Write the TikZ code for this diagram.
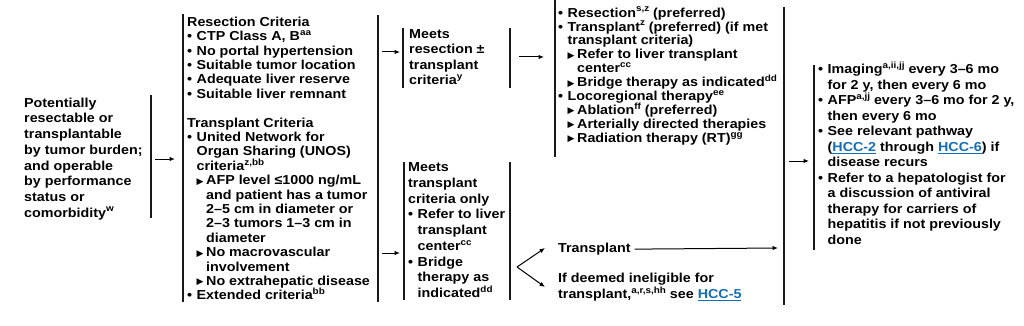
\documentclass[tikz,border=0pt]{standalone}
\usepackage{fontspec}
\setmainfont{Liberation Sans}[FakeStretch=1.1]
\newfontfamily\dejavu{DejaVu Sans}
\usetikzlibrary{arrows.meta}
\definecolor{linkblue}{RGB}{20,110,180}
\newcommand\sups[1]{\raisebox{0.4em}[0pt][0pt]{\fontsize{9}{9}\selectfont #1}}
\newcommand\bu{\makebox[9.5pt][l]{•}}
\newcommand\tri{\makebox[9.5pt][l]{\raisebox{0.6pt}[0pt][0pt]{\dejavu\fontsize{9}{9}\selectfont ▶}}}
\newcommand\ind{\hspace*{9.5pt}}
\newcommand\lnk[1]{{\color{linkblue}\underline{#1}}}
\newcommand\fst{\rule{0pt}{11pt}}
\tikzset{
  txt/.style={anchor=north west, inner sep=0pt, align=left, font=\bfseries\fontsize{13}{#1}\selectfont},
  txt/.default=14.4,
  bar/.style={line width=1.4pt, draw=black!90},
  arr/.style={line width=1pt, -{Latex[length=5.5pt,width=4.5pt]}}
}
\begin{document}
\begin{tikzpicture}[x=1pt,y=-1pt]
\useasboundingbox[fill=white] (0,0) rectangle (1024,326);

% text blocks
\node[txt=15.7] (cond) at (24,96) {\fst Potentially\\resectable or\\transplantable\\by tumor burden;\\and operable\\by performance\\status or\\comorbidity\sups{w}};

\node[txt=14.4] (crit) at (187,15) {\fst Resection Criteria\\
\bu CTP Class A, B\sups{aa}\\
\bu No portal hypertension\\
\bu Suitable tumor location\\
\bu Adequate liver reserve\\
\bu Suitable liver remnant\\
\mbox{}\\
Transplant Criteria\\
\bu United Network for\\
\ind Organ Sharing (UNOS)\\
\ind criteria\sups{z,bb}\\
\ind\tri AFP level ≤1000 ng/mL\\
\ind\ind and patient has a tumor\\
\ind\ind 2–5 cm in diameter or\\
\ind\ind 2–3 tumors 1–3 cm in\\
\ind\ind diameter\\
\ind\tri No macrovascular\\
\ind\ind involvement\\
\ind\tri No extrahepatic disease\\
\bu Extended criteria\sups{bb}};

\node[txt=15.5] (mres) at (409,27) {\fst Meets\\resection ±\\transplant\\criteria\sups{y}};

\node[txt=13.9] (res) at (558,6) {\fst\bu Resection\sups{s,z} (preferred)\\
\bu Transplant\sups{z} (preferred) (if met\\
\ind transplant criteria)\\
\ind\tri Refer to liver transplant\\
\ind\ind center\sups{cc}\\
\ind\tri Bridge therapy as indicated\sups{dd}\\
\bu Locoregional therapy\sups{ee}\\
\ind\tri Ablation\sups{ff} (preferred)\\
\ind\tri Arterially directed therapies\\
\ind\tri Radiation therapy (RT)\sups{gg}};

\node[txt=15.75] (mtr) at (408,160.5) {\fst Meets\\transplant\\criteria only\\
\bu Refer to liver\\
\ind transplant\\
\ind center\sups{cc}\\
\bu Bridge\\
\ind therapy as\\
\ind indicated\sups{dd}};

\node[anchor=base west, inner sep=0pt, font=\bfseries\fontsize{13}{14}\selectfont] (tx) at (558,252.5) {Transplant};

\node[txt=16] (inel) at (558,271.5) {\fst If deemed ineligible for\\transplant,\sups{a,r,s,hh} see \lnk{HCC-5}};

\node[txt=15.5] (fu) at (818,62.5) {\fst\bu Imaging\sups{a,ii,jj} every 3–6 mo\\
\ind for 2 y, then every 6 mo\\
\bu AFP\sups{a,jj} every 3–6 mo for 2 y,\\
\ind then every 6 mo\\
\bu See relevant pathway\\
\ind (\lnk{HCC-2} through \lnk{HCC-6}) if\\
\ind disease recurs\\
\bu Refer to a hepatologist for\\
\ind a discussion of antiviral\\
\ind therapy for carriers of\\
\ind hepatitis if not previously\\
\ind done};

% bars
\coordinate (b1t) at (151,95);  \coordinate (b1b) at (151,218);
\coordinate (b2t) at (183,14);  \coordinate (b2b) at (183,302);
\coordinate (b3t) at (378,15);  \coordinate (b3b) at (378,302);
\coordinate (b4t) at (403,28);  \coordinate (b4b) at (403,88);
\coordinate (b5t) at (510,28);  \coordinate (b5b) at (510,88);
\coordinate (b6t) at (555,0);   \coordinate (b6b) at (555,157);
\coordinate (b7t) at (404,162); \coordinate (b7b) at (404,300);
\coordinate (b8t) at (510,162); \coordinate (b8b) at (510,300);
\coordinate (b9t) at (784,7);   \coordinate (b9b) at (784,305);
\coordinate (b10t) at (814,65); \coordinate (b10b) at (814,250);
\foreach \i in {1,...,10} { \draw[bar] (b\i t) -- (b\i b); }

% arrows
\coordinate (a1s) at (155,159); \coordinate (a1e) at (175,159);
\coordinate (a2s) at (382,52);  \coordinate (a2e) at (400,52);
\coordinate (a3s) at (519,57);  \coordinate (a3e) at (544,57);
\coordinate (a4s) at (382,253); \coordinate (a4e) at (400,253);
\coordinate (a5s) at (789,161); \coordinate (a5e) at (809,161);
\foreach \i in {1,...,5} { \draw[arr] (a\i s) -- (a\i e); }

% fork
\coordinate (fk) at (517,267);
\coordinate (fk1) at (545,248);
\coordinate (fk2) at (545,287);
\draw[arr] (fk) -- (fk1);
\draw[arr] (fk) -- (fk2);

% transplant arrow
\coordinate (txe) at (778,248);
\draw[arr] ([xshift=4pt]tx.east) -- (txe);
\end{tikzpicture}
\end{document}
